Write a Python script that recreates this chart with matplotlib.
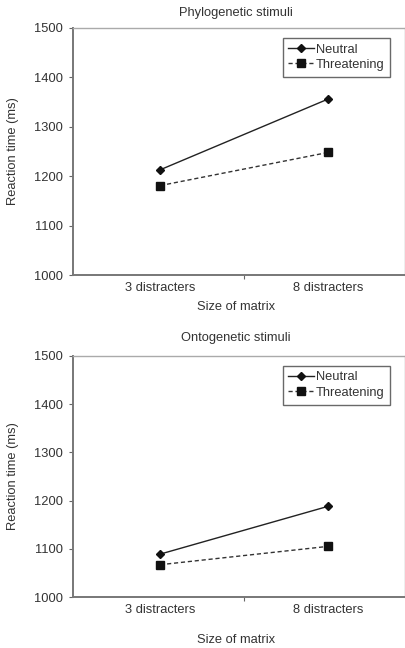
import matplotlib
matplotlib.use("Agg")
import matplotlib.pyplot as plt

categories = ["3 distracters", "8 distracters"]
phylo_neutral = [1213, 1356]
phylo_threat = [1181, 1248]
onto_neutral = [1089, 1188]
onto_threat = [1067, 1105]
titles = ["Phylogenetic stimuli", "Ontogenetic stimuli"]
yticks = [1000, 1100, 1200, 1300, 1400, 1500]

plt.rcParams['font.family'] = ['Liberation Sans', 'DejaVu Sans']
fig = plt.figure(figsize=(4.06, 6.48), dpi=100)
W, H = 406, 648
txt = '#333333'
fs = 9.3

def make(ax_box, title, neu, thr, title_y, xlab_y):
    l, t, r, b = ax_box
    ax = fig.add_axes([l / W, 1 - b / H, (r - l) / W, (b - t) / H])
    x = list(range(len(categories)))
    ax.plot(x, neu, color='#222222', lw=1.0, ls='-', marker='D', ms=4,
            markerfacecolor='#111111', markeredgecolor='#111111', label='Neutral')
    ax.plot(x, thr, color='#333333', lw=1.0, ls=(0, (3, 2)), marker='s', ms=6,
            markerfacecolor='#111111', markeredgecolor='#111111', label='Threatening')
    ax.set_xlim(-0.52, 1.46)
    ax.set_ylim(1000, 1500)
    ax.set_yticks(yticks)
    ax.set_xticks(x)
    ax.set_xticklabels(categories)
    ax.set_xticks([0.5], minor=True)
    ax.tick_params(axis='x', which='major', length=0, pad=5, labelsize=fs, colors=txt)
    ax.tick_params(axis='x', which='minor', length=3, width=0.8, color='#666666', direction='out')
    ax.tick_params(axis='y', length=3, width=0.8, color='#666666', labelsize=fs,
                   colors=txt, pad=4, direction='out')
    for s in ['top', 'right']:
        ax.spines[s].set_color('#aaaaaa')
        ax.spines[s].set_linewidth(1.0)
    for s in ['left', 'bottom']:
        ax.spines[s].set_color('#777777')
        ax.spines[s].set_linewidth(1.4)
    fig.text(((l + r) / 2 - 3) / W, 1 - title_y / H, title, ha='center', va='center',
             fontsize=fs, color=txt)
    fig.text(((l + r) / 2 - 3) / W, 1 - xlab_y / H, 'Size of matrix', ha='center', va='center',
             fontsize=fs, color=txt)
    fig.text(13 / W, 1 - ((t + b) / 2) / H, 'Reaction time (ms)', rotation=90,
             ha='center', va='center', fontsize=fs, color=txt)
    leg = ax.legend(loc='upper right', bbox_to_anchor=(0.955, 0.96), fontsize=fs,
                    frameon=True, fancybox=False, handlelength=2.0, handletextpad=0.1,
                    borderpad=0.45, labelspacing=0.25, borderaxespad=0)
    leg.get_frame().set_edgecolor('#444444')
    leg.get_frame().set_linewidth(1.0)
    for t_ in leg.get_texts():
        t_.set_color(txt)
    return ax

make((73, 28, 405, 275), titles[0], phylo_neutral, phylo_threat, 13, 307)
make((73, 356, 405, 597), titles[1], onto_neutral, onto_threat, 338, 640)

fig.savefig('out.png', dpi=100)
